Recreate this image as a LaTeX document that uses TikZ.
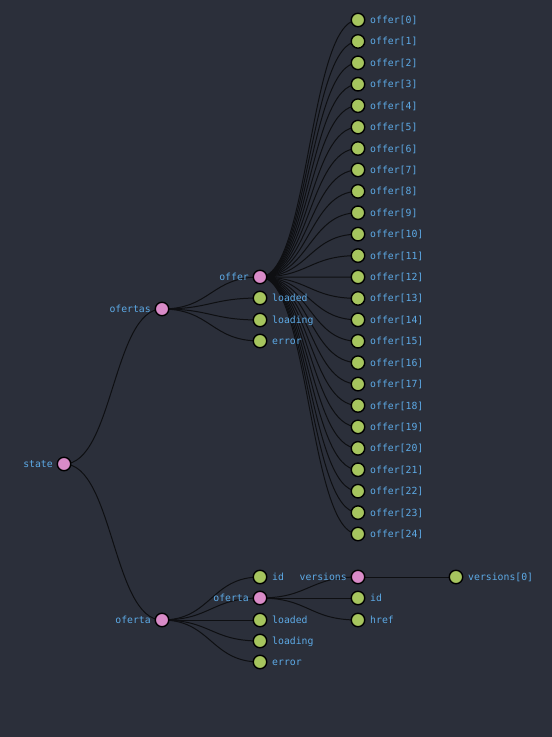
\documentclass[tikz,border=0pt]{standalone}
\usepackage{fontspec}
\setmonofont{DejaVu Sans Mono}
\usetikzlibrary{backgrounds}
\definecolor{bgc}{HTML}{2B2F3A}
\definecolor{leafc}{HTML}{A6C55E}
\definecolor{parc}{HTML}{D98BC8}
\definecolor{txtc}{HTML}{5DAAE6}
\definecolor{linkc}{HTML}{0E0F12}
\tikzset{
  pt/.style={circle,draw=black,line width=1.4pt,minimum size=13.5pt,inner sep=0pt},
  leaf/.style={pt,fill=leafc},
  par/.style={pt,fill=parc},
  rlab/.style={anchor=base west,text=txtc,font=\ttfamily\fontsize{9.8}{12}\selectfont,inner sep=0pt},
  llab/.style={anchor=base east,text=txtc,font=\ttfamily\fontsize{9.8}{12}\selectfont,inner sep=0pt},
  link/.style={draw=linkc,line width=1pt},
}
\newcommand{\lnk}[2]{\draw[link] (#1.center) .. controls +(49,0) and +(-49,0) .. (#2.center);}
\begin{document}
\begin{tikzpicture}[x=1pt,y=-1pt]
\useasboundingbox (0,0) rectangle (552,737);
% nodes
\node[par] (state) at (64,464) {};
\node[llab] (state-t) at (53,467.5) {state};
\node[par] (ofertas) at (162,309) {};
\node[llab] (ofertas-t) at (151,312.5) {ofertas};
\node[par] (oferta) at (162,620) {};
\node[llab] (oferta-t) at (151,623.5) {oferta};
% ofertas children
\node[par] (offer) at (260,277) {};
\node[llab] (offer-t) at (249,280.5) {offer};
\node[leaf] (sloaded) at (260,298) {};
\node[rlab] (sloaded-t) at (272,301.5) {loaded};
\node[leaf] (sloading) at (260,320) {};
\node[rlab] (sloading-t) at (272,323.5) {loading};
\node[leaf] (serror) at (260,341) {};
\node[rlab] (serror-t) at (272,344.5) {error};
\foreach \i in {0,...,24}{
  \node[leaf] (o\i) at (358,{20+\i*21.417}) {};
  \node[rlab] (o\i-t) at (370,{23.5+\i*21.417}) {offer[\i]};
}
% oferta children
\node[leaf] (aid) at (260,577) {};
\node[rlab] (aid-t) at (272,580.5) {id};
\node[par] (aoferta) at (260,598) {};
\node[llab] (aoferta-t) at (249,601.5) {oferta};
\node[leaf] (aloaded) at (260,620) {};
\node[rlab] (aloaded-t) at (272,623.5) {loaded};
\node[leaf] (aloading) at (260,641) {};
\node[rlab] (aloading-t) at (272,644.5) {loading};
\node[leaf] (aerror) at (260,662) {};
\node[rlab] (aerror-t) at (272,665.5) {error};
% oferta.oferta children
\node[par] (versions) at (358,577) {};
\node[llab] (versions-t) at (347,580.5) {versions};
\node[leaf] (bid) at (358,598) {};
\node[rlab] (bid-t) at (370,601.5) {id};
\node[leaf] (bhref) at (358,620) {};
\node[rlab] (bhref-t) at (370,623.5) {href};
\node[leaf] (v0) at (456,577) {};
\node[rlab] (v0-t) at (468,580.5) {versions[0]};
\begin{pgfonlayer}{background}
\fill[bgc] (0,0) rectangle (552,737);
\lnk{state}{ofertas}
\lnk{state}{oferta}
\lnk{ofertas}{offer}
\lnk{ofertas}{sloaded}
\lnk{ofertas}{sloading}
\lnk{ofertas}{serror}
\foreach \i in {0,...,24}{\lnk{offer}{o\i}}
\lnk{oferta}{aid}
\lnk{oferta}{aoferta}
\lnk{oferta}{aloaded}
\lnk{oferta}{aloading}
\lnk{oferta}{aerror}
\lnk{aoferta}{versions}
\lnk{aoferta}{bid}
\lnk{aoferta}{bhref}
\lnk{versions}{v0}
\end{pgfonlayer}
\end{tikzpicture}
\end{document}
